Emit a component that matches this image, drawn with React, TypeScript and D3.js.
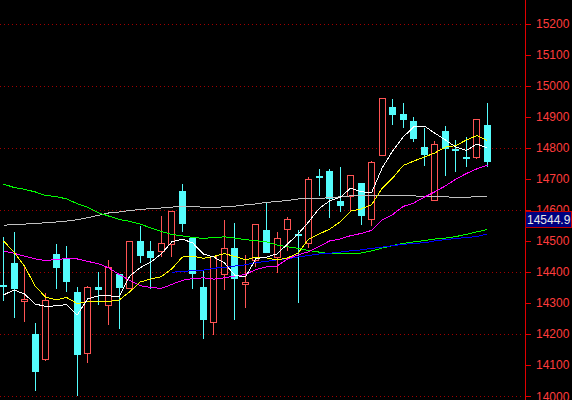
import React from 'react';
import * as d3 from 'd3';

const W = 572;
const H = 400;

// Daily candles (47 sessions, left to right)
const opens = [14359,14429,14306,14200,14120,14458,14443,14336,14138,14352,14293,14394,14349,14500,14469,14467,14489,14661,14508,14352,14240,14393,14477,14362,14439,14535,14449,14537,14522,14494,14709,14725,14629,14645,14687,14570,14778,14931,14909,14886,14802,14633,14854,14796,14770,14771,14873];
const highs = [14514,14529,14422,14235,14331,14490,14484,14353,14355,14399,14439,14394,14500,14549,14500,14581,14596,14683,14508,14406,14452,14567,14558,14455,14555,14624,14529,14578,14535,14706,14732,14732,14738,14712,14687,14757,14960,14957,14944,14899,14864,14822,14870,14825,14835,14893,14944];
const lows = [14310,14255,14243,14020,14118,14349,14340,14004,14111,14296,14234,14219,14349,14433,14348,14452,14452,14533,14349,14188,14199,14346,14250,14288,14419,14462,14400,14471,14304,14481,14648,14577,14596,14600,14555,14551,14778,14876,14867,14822,14744,14633,14712,14725,14741,14767,14741];
const closes = [14357,14345,14312,14079,14310,14414,14369,14134,14351,14343,14415,14349,14500,14452,14446,14492,14596,14554,14395,14246,14452,14476,14378,14368,14555,14462,14508,14570,14516,14699,14706,14635,14612,14712,14580,14754,14960,14905,14889,14828,14777,14812,14796,14793,14767,14893,14754];

// Moving averages
const maWhite = [14326,14342,14329,14297,14289,14291,14295,14261,14313,14323,14323,14321,14387,14414,14432,14458,14497,14506,14493,14458,14448,14429,14389,14384,14443,14448,14458,14490,14522,14561,14604,14629,14640,14670,14658,14656,14735,14790,14835,14867,14870,14847,14825,14802,14791,14812,14799];
const maYellow = [14500,14464,14419,14355,14319,14310,14318,14298,14305,14305,14305,14310,14336,14368,14377,14385,14410,14448,14451,14444,14450,14459,14450,14439,14448,14445,14439,14445,14461,14506,14522,14538,14561,14596,14603,14617,14670,14703,14743,14757,14770,14783,14802,14807,14825,14839,14823];
const maMagenta = [14468,14460,14451,14442,14437,14440,14443,14442,14434,14427,14413,14392,14373,14356,14350,14347,14360,14373,14379,14381,14377,14381,14387,14392,14408,14416,14419,14442,14455,14465,14482,14500,14506,14517,14524,14534,14567,14585,14611,14622,14641,14658,14677,14699,14717,14732,14744];
const maGreen = [14683,14672,14666,14658,14646,14643,14635,14620,14608,14591,14580,14569,14563,14554,14542,14530,14521,14516,14511,14508,14511,14513,14509,14504,14501,14497,14487,14481,14476,14469,14464,14459,14458,14458,14461,14468,14477,14485,14492,14497,14501,14506,14509,14514,14521,14529,14537];
const maGray = [14550,14554,14554,14557,14558,14561,14564,14568,14575,14582,14590,14593,14598,14601,14604,14606,14609,14610,14612,14608,14607,14610,14612,14616,14619,14624,14627,14630,14635,14637,14637,14639,14642,14645,14646,14647,14647,14647,14647,14645,14643,14642,14642,14640,14640,14643,14644];
const blueStart = 16;
const maBlue = [14399,14402,14404,14406,14412,14415,14419,14423,14430,14434,14439,14443,14448,14453,14458,14460,14464,14468,14471,14476,14480,14485,14489,14492,14494,14500,14504,14508,14511,14514,14522];

const priceTicks = d3.range(14000, 15201, 100);
const gridLevels = d3.range(14000, 15201, 200);
const markerValue = 14544.9;
const markerText = '14544.9';

const RED = '#ff5454';
const CYAN = '#54fcfc';

export default function App() {
  const x = d3.scaleLinear().domain([0, closes.length - 1]).range([3.5, 487.4]);
  const y = d3.scaleLinear().domain([14000, 15200]).range([396.2, 23.5]);
  const axisX = 525;

  const mkLine = (offset: number) =>
    d3.line<number>().x((_, i) => x(i + offset)).y((d) => y(d));

  const lines: [number[], string, number][] = [
    [maGray, '#c0c0c0', 0],
    [maGreen, '#00ff00', 0],
    [maBlue, '#0000ff', blueStart],
    [maMagenta, '#ff00ff', 0],
    [maYellow, '#ffff00', 0],
    [maWhite, '#ffffff', 0],
  ];

  const markerBottom = Math.round(y(markerValue));

  return (
    <svg
      width={W}
      height={H}
      style={{ position: 'absolute', left: 0, top: 0, display: 'block' }}
      fontFamily="'Liberation Sans', Arial, sans-serif"
    >
      <rect x={0} y={0} width={W} height={H} fill="#000" />
      {gridLevels.map((p) => (
        <line
          key={'g' + p}
          x1={0}
          x2={axisX - 2}
          y1={Math.round(y(p)) + 0.5}
          y2={Math.round(y(p)) + 0.5}
          stroke="#a00000"
          strokeDasharray="1,3"
        />
      ))}
      {closes.map((c, i) => {
        const o = opens[i];
        const up = c > o;
        const left = Math.round(x(i) - 3.5);
        const wx = left + 3.5;
        const top = Math.round(y(Math.max(o, c)));
        const bot = Math.round(y(Math.min(o, c)));
        const hy = Math.round(y(highs[i]));
        const ly = Math.round(y(lows[i]));
        const col = up ? RED : CYAN;
        return (
          <g key={'c' + i} shapeRendering="crispEdges">
            {hy < top && <line x1={wx} x2={wx} y1={hy} y2={top} stroke={col} />}
            {ly > bot && <line x1={wx} x2={wx} y1={bot} y2={ly + 1} stroke={col} />}
            {up ? (
              <rect x={left + 0.5} y={top + 0.5} width={6} height={Math.max(1, bot - top)} fill="#000" stroke={col} />
            ) : (
              <rect x={left} y={top} width={7} height={Math.max(2, bot - top)} fill={col} />
            )}
          </g>
        );
      })}
      {lines.map(([data, color, off], k) => (
        <path
          key={'l' + k}
          d={mkLine(off)(data) || ''}
          fill="none"
          stroke={color}
          strokeWidth={1}
          shapeRendering="crispEdges"
        />
      ))}
      <line x1={axisX + 0.5} x2={axisX + 0.5} y1={0} y2={H} stroke="#e00000" />
      {priceTicks.map((p) => (
        <g key={'t' + p}>
          <line
            x1={axisX + 1}
            x2={axisX + 6}
            y1={Math.round(y(p)) + 0.5}
            y2={Math.round(y(p)) + 0.5}
            stroke="#e00000"
          />
          <text x={536} y={y(p)} dy="0.36em" fontSize={12} fill="#ff3c3c">
            {p}
          </text>
        </g>
      ))}
      <rect
        x={axisX + 0.5}
        y={markerBottom - 15.5}
        width={46}
        height={16}
        fill="#000080"
        stroke="#c00000"
      />
      <text x={527} y={markerBottom - 7.5} dy="0.36em" fontSize={12} fill="#e8e8e8">
        {markerText}
      </text>
    </svg>
  );
}
